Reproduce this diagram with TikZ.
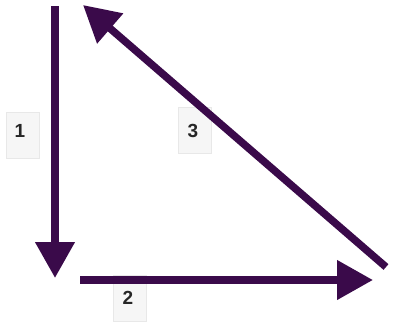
\documentclass[tikz,border=0pt]{standalone}
\usepackage{fontspec}
\setmainfont{Liberation Sans}
\usetikzlibrary{arrows.meta}
\definecolor{arrowpurple}{HTML}{3A0A4A}
\tikzset{
  arrowline/.style={draw=arrowpurple, line width=7.5pt, -{Triangle[width=38pt,length=36pt]}},
  labelbox/.style={draw=gray!18, fill=gray!7, line width=0.8pt, minimum width=33pt, minimum height=46pt, inner sep=0pt},
  labeltext/.style={font=\bfseries\fontsize{19}{19}\selectfont, text=black!85, inner sep=0pt}
}
\begin{document}
\begin{tikzpicture}[x=1pt,y=-1pt]
\useasboundingbox (0,0) rectangle (397,333);
% label boxes
\node[labelbox] (b1) at (23,135) {};
\node[labelbox] (b2) at (130,298) {};
\node[labelbox] (b3) at (195,130) {};
% connector end points
\coordinate (s1) at (55,6);
\coordinate (e1) at (55,278);
\coordinate (s2) at (80,280);
\coordinate (e2) at (373,280);
\coordinate (s3) at (386,267);
\coordinate (e3) at (83,5);
\draw[arrowline] (s1) -- (e1);
\draw[arrowline] (s2) -- (e2);
\draw[arrowline] (s3) -- (e3);
% labels
\node[labeltext] (t1) at (20,131) {1};
\node[labeltext] (t2) at (128,298) {2};
\node[labeltext] (t3) at (193,131) {3};
\end{tikzpicture}
\end{document}
